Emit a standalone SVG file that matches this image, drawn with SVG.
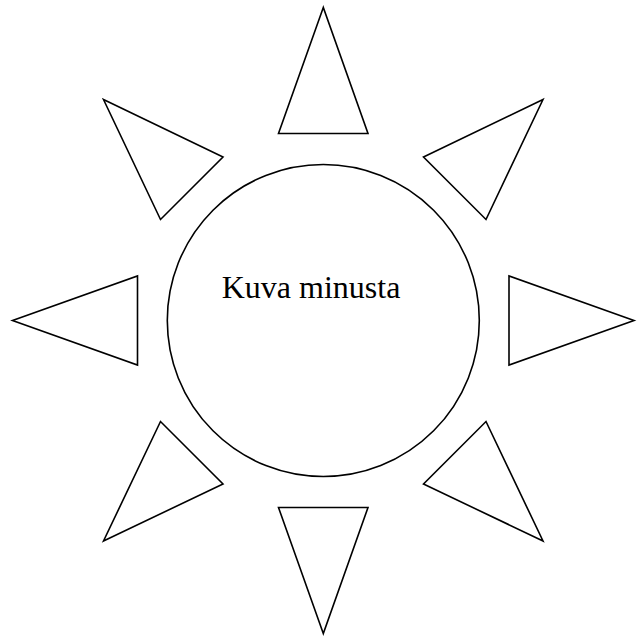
<svg xmlns="http://www.w3.org/2000/svg" width="638" height="637" viewBox="0 0 638 637">
<style>
.s{fill:#fff;stroke:#000;stroke-width:1.6;stroke-linejoin:miter}
.t{font-family:"Liberation Serif","Times New Roman",serif;font-size:32px;fill:#000}
</style>
<rect width="638" height="637" fill="#fff"/>
<g id="sun">
<ellipse class="s" cx="323.3" cy="320.5" rx="156" ry="156"/>
<text class="t" x="221.7" y="298.3">Kuva minusta</text>
</g>
<g id="ray-top"><polygon class="s" points="323.3,7.5 278.5,133.5 368,133.5"/></g>
<g id="ray-bottom"><polygon class="s" points="323.3,633.5 278.5,507.5 368,507.5"/></g>
<g id="ray-left"><polygon class="s" points="12.5,320.5 137.5,276 137.5,365"/></g>
<g id="ray-right"><polygon class="s" points="634,320.5 509,276 509,365"/></g>
<g id="ray-top-left"><polygon class="s" points="103.5,99.5 223,157 160.5,219.5"/></g>
<g id="ray-top-right"><polygon class="s" points="543,99.5 423.5,157 486,219.5"/></g>
<g id="ray-bottom-left"><polygon class="s" points="103.5,541 223,484 160.5,421.5"/></g>
<g id="ray-bottom-right"><polygon class="s" points="543,541 423.5,484 486,421.5"/></g>
</svg>
